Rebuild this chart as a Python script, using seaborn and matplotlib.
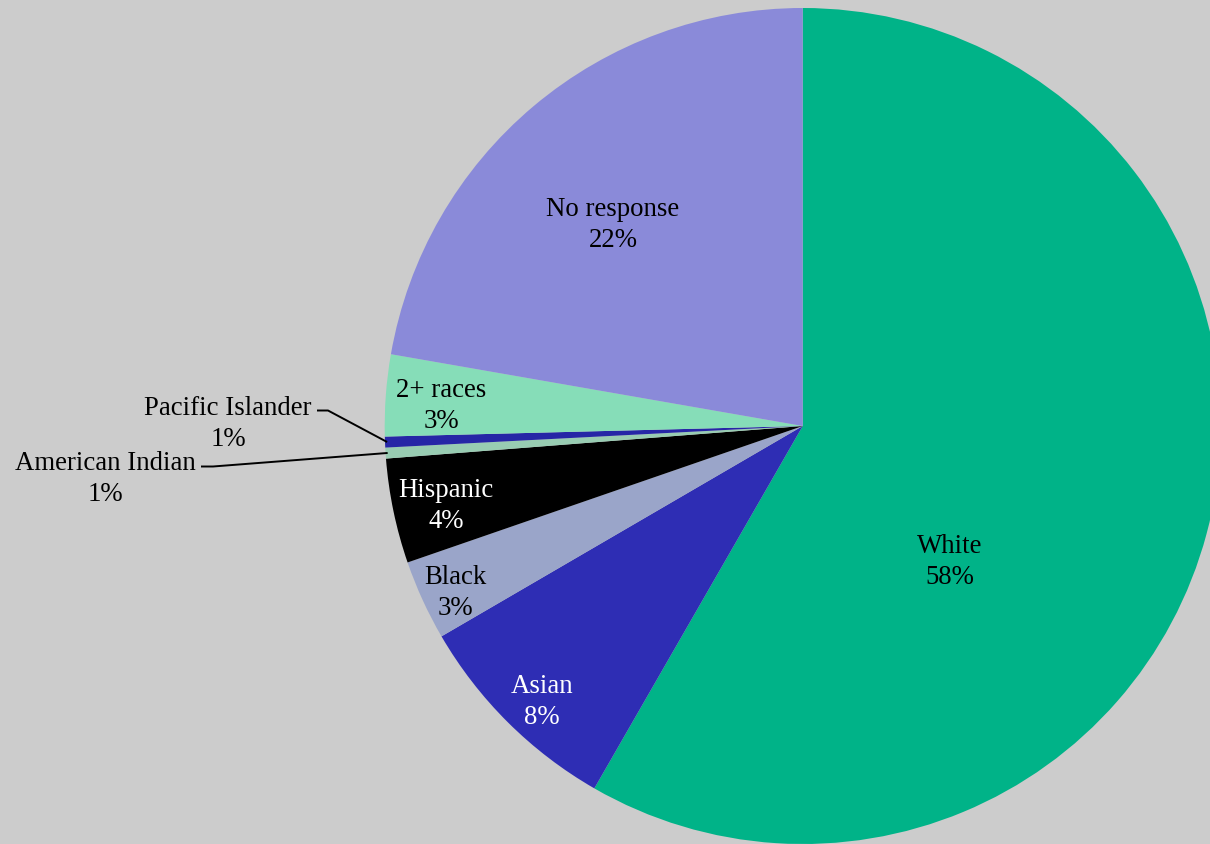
import numpy as np
import matplotlib
matplotlib.use('Agg')
import matplotlib.pyplot as plt
import seaborn as sns

# slices clockwise from 12 o'clock
groups = ['White', 'Asian', 'Black', 'Hispanic', 'American Indian',
          'Pacific Islander', '2+ races', 'No response']
shares = [58.3, 8.3, 3.1, 4.05, 0.42, 0.42, 3.15, 22.25]
pct_labels = ['58%', '8%', '3%', '4%', '1%', '1%', '3%', '22%']
colors = ['#00B388', '#2E2DB4', '#9AA5C9', '#000000', '#98CCB2',
          '#2626A6', '#86DDB8', '#8A8AD9']
text_colors = ['black', 'white', 'black', 'white', 'black', 'black', 'black', 'black']

# label centres in pixels (x, y from top)
label_px = [(950, 562), (542, 702), (455, 593), (446, 506),
            (105, 479), (228, 424), (441, 406), (613, 225)]
# leader line elbows for the two small slices (pixels)
leader_px = {4: [(201, 467.5), (213, 467.5)], 5: [(317, 411.5), (328, 411.5)]}

W, H = 1210, 845
sns.set_theme(style='white')
plt.rcParams['font.family'] = ['Liberation Serif', 'DejaVu Serif']

fig = plt.figure(figsize=(W / 100, H / 100), dpi=100, facecolor='#CCCCCC')
ax = fig.add_axes([0, 0, 1, 1])
ax.set_facecolor('#CCCCCC')

wedges, _ = ax.pie(shares, colors=sns.color_palette(colors), startangle=90,
                   counterclock=False, radius=1, center=(0, 0),
                   wedgeprops=dict(linewidth=0))

# centre at (802.7, 427) px, radius 418 px
r_px = 418.0
cx, cy = 802.7, 427.0
ax.set_xlim(-cx / r_px, (W - cx) / r_px)
ax.set_ylim(-(H - cy) / r_px, cy / r_px)
ax.set_aspect('auto')
ax.axis('off')

inv = ax.transData.inverted()


def px2data(p):
    return inv.transform((p[0], H - p[1]))


for i, g in enumerate(groups):
    x, y = px2data(label_px[i])
    ax.text(x, y, f'{g}\n{pct_labels[i]}', ha='center', va='center',
            fontsize=19.3, color=text_colors[i], linespacing=1.28)

for i, pts in leader_px.items():
    w = wedges[i]
    mid = np.deg2rad((w.theta1 + w.theta2) / 2)
    end = (0.995 * np.cos(mid), 0.995 * np.sin(mid))
    xs = [px2data(p)[0] for p in pts] + [end[0]]
    ys = [px2data(p)[1] for p in pts] + [end[1]]
    ax.plot(xs, ys, color='black', lw=1.4, solid_capstyle='butt')

fig.savefig('out.png', dpi=100, facecolor=fig.get_facecolor())
